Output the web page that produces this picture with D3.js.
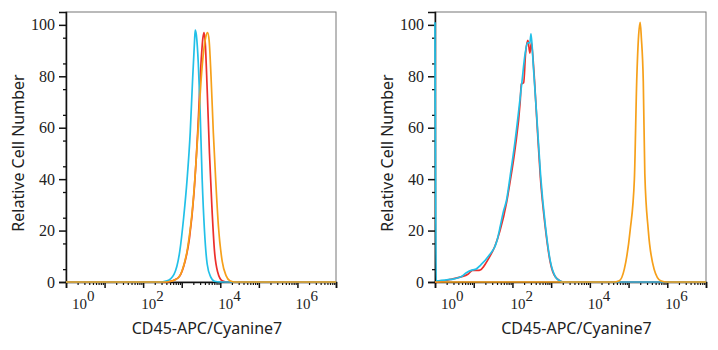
<!DOCTYPE html>
<html>
<head>
<meta charset="utf-8">
<script src="https://cdn.jsdelivr.net/npm/d3@7"></script>
<style>
  body { margin: 0; background: #fff; }
</style>
</head>
<body>
<div id="wrapper"></div>
<script>
// values: [log10 of intensity, relative cell number]
let leftCyan = [[0, 0], [2.4, 0], [2.62, 0.5], [2.8, 3], [2.95, 12], [3.05, 25], [3.14, 40], [3.22, 58], [3.28, 78], [3.33, 93], [3.35, 98], [3.38, 96], [3.43, 85], [3.47, 70], [3.53, 40], [3.59, 20], [3.66, 7], [3.75, 2], [3.85, 0.3], [4.0, 0], [7, 0]]
let leftRed = [[0, 0], [2.6, 0], [2.9, 1.5], [3.05, 6], [3.2, 17], [3.32, 35], [3.42, 60], [3.5, 85], [3.55, 95], [3.58, 97], [3.61, 93], [3.66, 75], [3.72, 50], [3.78, 30], [3.85, 12], [3.93, 4], [4.05, 0.5], [4.2, 0], [7, 0]]
let leftOrange = [[0, 0], [2.6, 0], [2.85, 1], [3.0, 4], [3.15, 13], [3.3, 32], [3.42, 58], [3.5, 78], [3.57, 90], [3.62, 95], [3.67, 97], [3.71, 94], [3.76, 80], [3.82, 58], [3.88, 40], [3.95, 22], [4.05, 8], [4.15, 2.5], [4.25, 0.5], [4.4, 0], [7, 0]]

let rightRed = [[0, 0], [0.03, 0], [0.4, 1], [0.67, 2], [0.85, 3], [0.97, 4.5], [1.1, 4.5], [1.18, 4.8], [1.3, 7], [1.38, 9], [1.55, 14], [1.68, 20], [1.85, 31], [1.94, 39], [2.07, 52], [2.2, 70], [2.23, 77], [2.29, 77.5], [2.34, 89], [2.4, 94], [2.45, 89], [2.49, 93], [2.55, 83], [2.63, 63], [2.72, 41], [2.85, 21], [2.98, 7.5], [3.11, 2], [3.32, 0], [7, 0]]
let rightCyan = [[0, 101], [0.03, 0.3], [0.1, 0.5], [0.41, 1], [0.67, 2], [0.8, 3.5], [0.97, 4.7], [1.06, 5], [1.18, 6.6], [1.38, 10], [1.6, 16], [1.69, 22], [1.76, 27], [1.85, 32], [1.94, 41], [2.07, 55], [2.24, 77], [2.33, 89], [2.39, 93], [2.45, 93], [2.48, 96.5], [2.54, 84], [2.63, 64], [2.73, 41], [2.85, 22], [2.98, 8], [3.11, 2], [3.2, 0.7], [3.32, 0], [7, 0]]
let rightOrange = [[0, 0], [4.6, 0], [4.76, 0.5], [4.89, 5], [5.04, 20], [5.15, 40], [5.21, 78], [5.26, 96], [5.3, 101], [5.33, 95], [5.38, 78], [5.42, 42], [5.51, 20], [5.66, 5], [5.83, 0.5], [6.0, 0], [7, 0]]

let yTicks = [0, 20, 40, 60, 80, 100]
let xLabelPowers = [0, 2, 4, 6]
let xTitle = "CD45-APC/Cyanine7"
let yTitle = "Relative Cell Number"

let colors = { cyan: "#22c0e8", red: "#ec2f2c", orange: "#f6a01a" }

let panels = [
    { left: 66, right: 336, series: [["red", leftRed], ["cyan", leftCyan], ["orange", leftOrange]] },
    { left: 435, right: 706, series: [["red", rightRed], ["cyan", rightCyan], ["orange", rightOrange]] }
]

let dimensions = { width: 718, height: 350, top: 12, bottom: 282 }
let serif = "'Liberation Serif', 'DejaVu Serif', serif"
let sans = "'Noto Sans', 'Open Sans', sans-serif"

let svg = d3.select("#wrapper")
    .append("svg")
    .attr("width", dimensions.width)
    .attr("height", dimensions.height)

let y = d3.scaleLinear()
    .domain([0, 105])
    .range([dimensions.bottom, dimensions.top])

// minor ticks of the log axis: 2..9 in every decade
let minorTicks = []
for (let d = 0; d < 7; d++) {
    for (let m = 2; m <= 9; m++) minorTicks.push(m * Math.pow(10, d))
}
let majorTicks = d3.range(0, 8).map(d => Math.pow(10, d))

panels.forEach(p => {
    let x = d3.scaleLog()
        .domain([1, 1e7])
        .range([p.left, p.right])

    let g = svg.append("g")

    // frame
    g.append("rect")
        .attr("x", p.left)
        .attr("y", dimensions.top)
        .attr("width", p.right - p.left)
        .attr("height", dimensions.bottom - dimensions.top)
        .attr("fill", "none")
        .attr("stroke", "#777")
        .attr("stroke-width", 1)

    // y axis
    let yAxis = g.append("g")
        .attr("transform", `translate(${p.left},0)`)
        .call(d3.axisLeft(y).tickValues(yTicks).tickSize(7).tickPadding(4))
    yAxis.select(".domain").attr("stroke", "#111").attr("stroke-width", 1.5)
    yAxis.selectAll(".tick line").attr("stroke", "#111").attr("stroke-width", 1.5)
    yAxis.selectAll(".tick text")
        .style("font-family", serif)
        .style("font-size", "16px")
        .attr("fill", "#222")
    g.append("g")
        .attr("transform", `translate(${p.left},0)`)
        .call(d3.axisLeft(y).tickValues(d3.range(5, 105, 10)).tickSize(3).tickFormat(""))
        .call(a => a.select(".domain").remove())
        .selectAll("line").attr("stroke", "#111").attr("stroke-width", 1.3)

    // x axis
    let xAxis = g.append("g")
        .attr("transform", `translate(0,${dimensions.bottom})`)
        .call(d3.axisBottom(x).tickValues(majorTicks).tickSize(6).tickFormat(""))
    xAxis.select(".domain").attr("stroke", "#111").attr("stroke-width", 1.5)
    xAxis.selectAll(".tick line").attr("stroke", "#111").attr("stroke-width", 1.5)
    g.append("g")
        .attr("transform", `translate(0,${dimensions.bottom})`)
        .call(d3.axisBottom(x).tickValues(minorTicks).tickSize(3).tickFormat(""))
        .call(a => a.select(".domain").remove())
        .selectAll("line").attr("stroke", "#111").attr("stroke-width", 1.2)

    // decade labels 10^k
    let labels = g.append("g")
        .selectAll("text")
        .data(xLabelPowers)
        .enter()
        .append("text")
        .attr("x", d => Math.max(x(Math.pow(10, d)) - 2, p.left + 6))
        .attr("y", 309)
        .style("font-family", serif)
        .style("font-size", "15px")
        .attr("fill", "#222")
    labels.append("tspan").text("10")
    labels.append("tspan").attr("dy", -8).text(d => d)

    // histograms, drawn over the axes like the original
    let clipId = "clip" + p.left
    g.append("clipPath").attr("id", clipId)
        .append("rect")
        .attr("x", p.left - 1)
        .attr("y", dimensions.top - 2)
        .attr("width", p.right - p.left + 2)
        .attr("height", dimensions.bottom - dimensions.top + 3)

    let line = d3.line()
        .x(d => x(Math.pow(10, d[0])))
        .y(d => y(d[1]))
        .curve(d3.curveMonotoneX)

    g.append("g")
        .attr("clip-path", `url(#${clipId})`)
        .selectAll("path")
        .data(p.series)
        .enter()
        .append("path")
        .attr("d", d => line(d[1]))
        .attr("fill", "none")
        .attr("stroke", d => colors[d[0]])
        .attr("stroke-width", 1.7)
        .attr("stroke-linejoin", "round")

    // titles
    g.append("text")
        .attr("x", (p.left + p.right) / 2 + 6)
        .attr("y", 334)
        .attr("text-anchor", "middle")
        .style("font-family", sans)
        .style("font-size", "16px")
        .attr("fill", "#222")
        .text(xTitle)

    g.append("text")
        .attr("transform", `translate(${p.left - 42},153) rotate(-90)`)
        .attr("text-anchor", "middle")
        .style("font-family", sans)
        .style("font-size", "16px")
        .attr("fill", "#222")
        .text(yTitle)
})
</script>
</body>
</html>
